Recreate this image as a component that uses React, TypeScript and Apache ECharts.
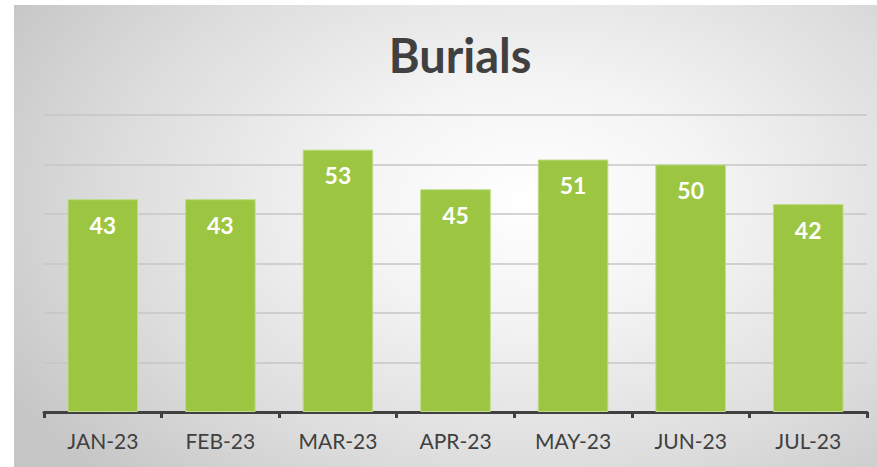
import React, { useEffect, useRef } from "react";
import * as echarts from "echarts";

const categories = ["JAN-23", "FEB-23", "MAR-23", "APR-23", "MAY-23", "JUN-23", "JUL-23"];
const burials = [43, 43, 53, 45, 51, 50, 42];
const title = "Burials";

export default function App() {
  const ref = useRef<HTMLDivElement>(null);
  useEffect(() => {
    if (!ref.current) return;
    const chart = echarts.init(ref.current, null, { renderer: "svg" });
    chart.setOption({
      animation: false,
      backgroundColor: "transparent",
      title: {
        text: title,
        left: 455,
        textAlign: "center",
        top: 26,
        textStyle: { fontFamily: "Lato", fontWeight: "bold", fontSize: 47, color: "#404040" },
      },
      grid: { left: 44, right: 10, top: 115, bottom: 55, containLabel: false },
      xAxis: {
        type: "category",
        data: categories,
        axisLine: { show: true, lineStyle: { color: "#404040", width: 3 } },
        axisTick: { show: true, alignWithLabel: false, length: 6, lineStyle: { color: "#404040", width: 3 } },
        axisLabel: { color: "#404040", fontFamily: "Lato", fontSize: 21, margin: 18 },
      },
      yAxis: {
        type: "value",
        min: 0,
        max: 60,
        interval: 10,
        axisLabel: { show: false },
        axisLine: { show: false },
        axisTick: { show: false },
        splitLine: { show: true, lineStyle: { color: "#c6c6c6", width: 1.5 } },
      },
      series: [
        {
          type: "bar",
          data: burials,
          barWidth: "60%",
          itemStyle: { color: "#9cc641", borderColor: "#bcdc85", borderWidth: 1 },
          label: {
            show: true,
            position: "insideTop",
            distance: 14,
            color: "#ffffff",
            fontFamily: "Lato",
            fontWeight: "bold",
            fontSize: 23,
          },
        },
      ],
    });
    return () => chart.dispose();
  }, []);
  return (
    <div style={{ position: "fixed", left: 0, top: 0, width: 877, height: 467, background: "#ffffff" }}>
      <div
        style={{
          position: "absolute",
          left: 14,
          top: 5,
          width: 863,
          height: 462,
          background: "radial-gradient(ellipse 70% 85% at 60% 42%, #ffffff 0%, #f4f4f4 30%, #dcdcdc 70%, #c6c6c6 100%)",
        }}
      />
      <div ref={ref} style={{ position: "absolute", left: 0, top: 0, width: 877, height: 467 }} />
    </div>
  );
}
